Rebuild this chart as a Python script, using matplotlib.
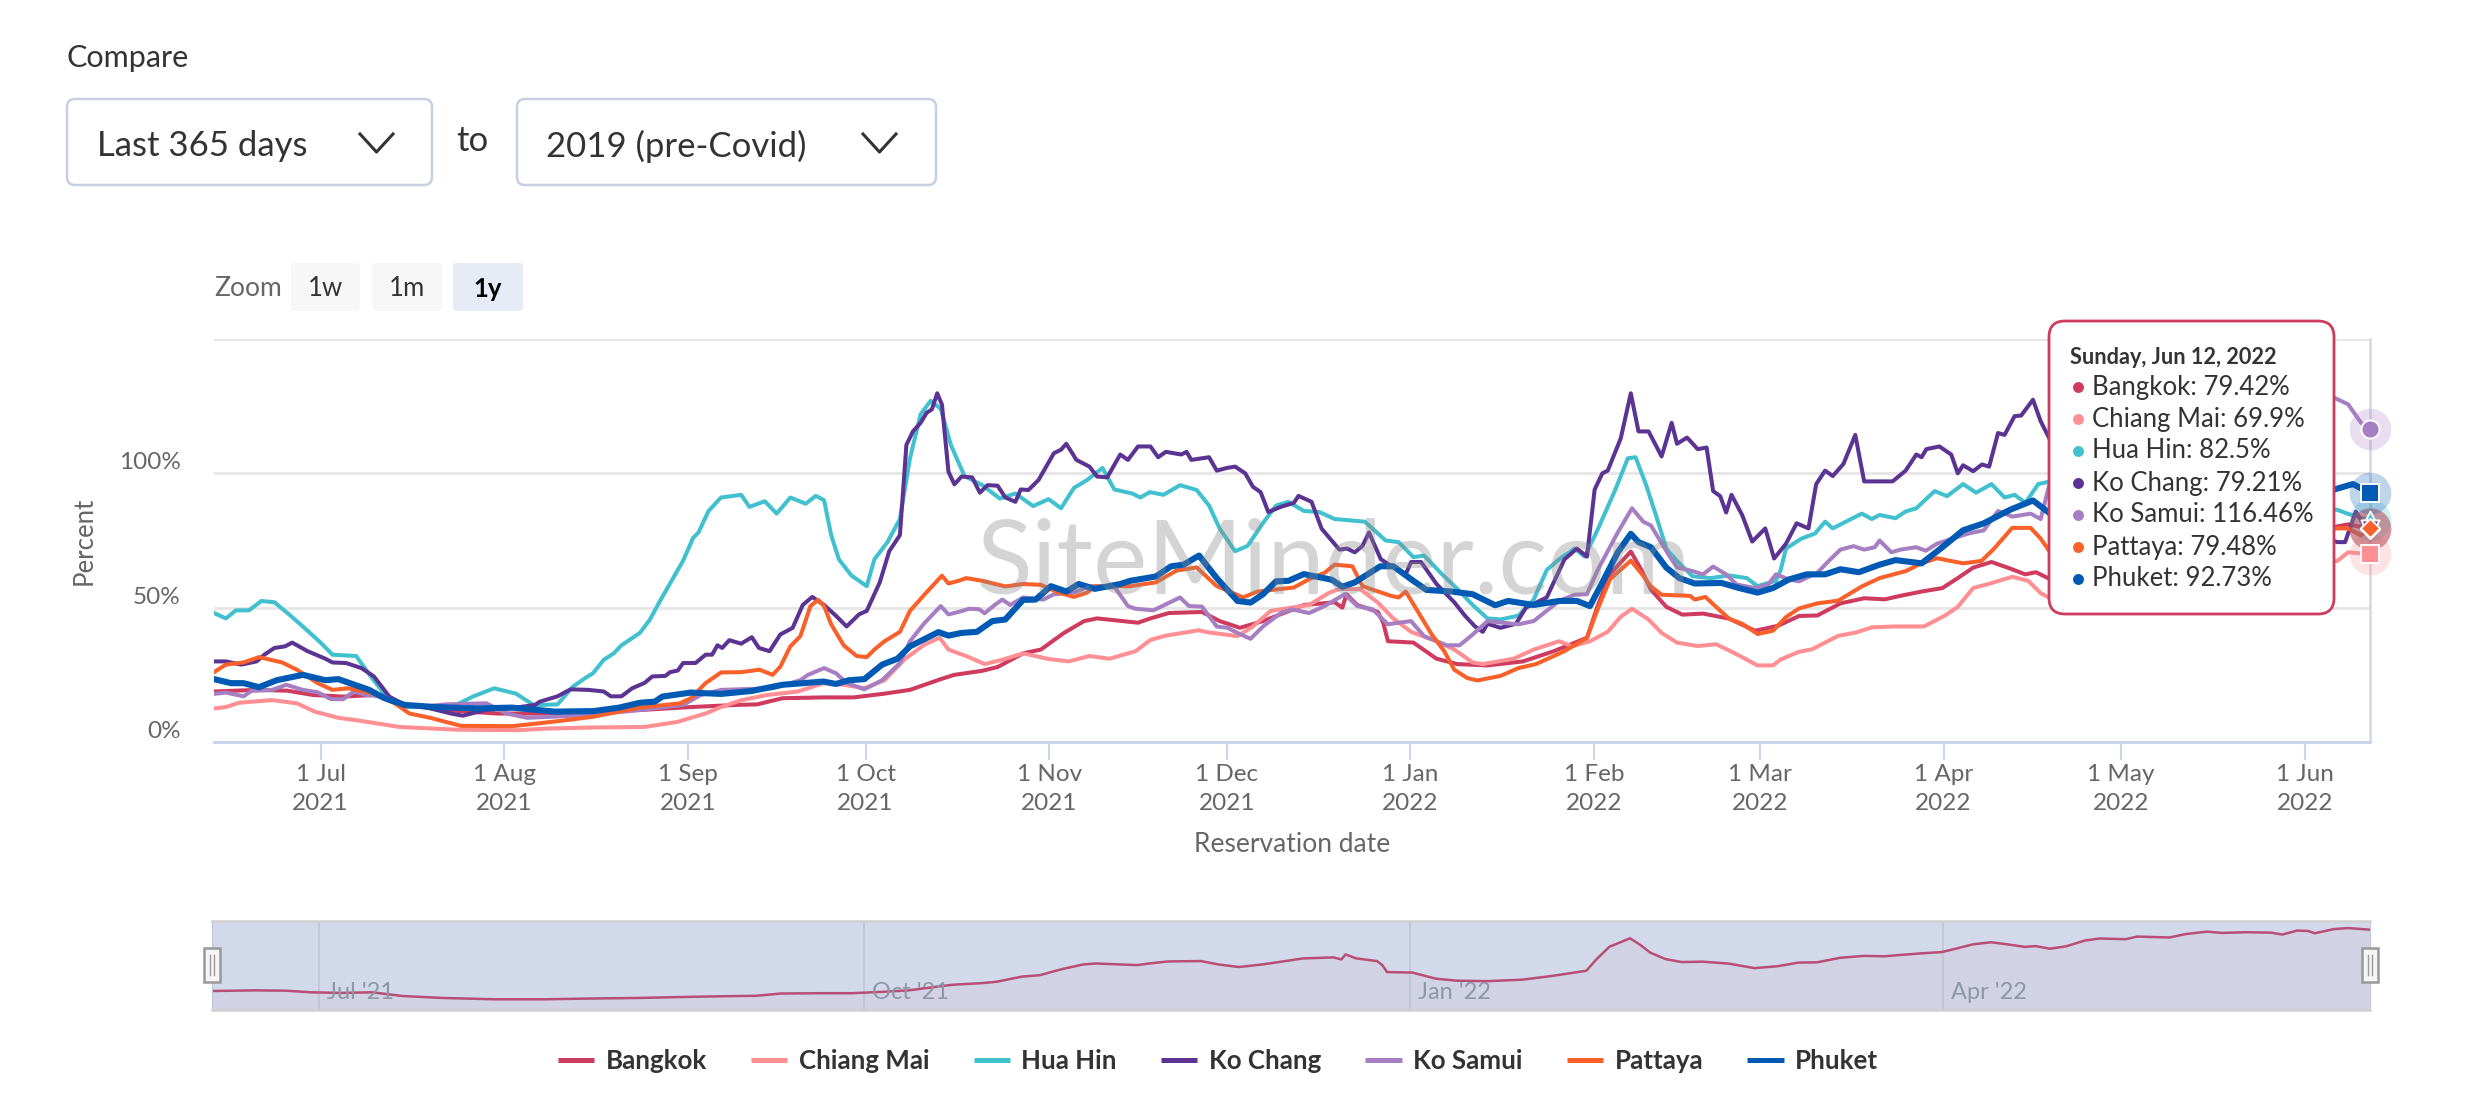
#!/usr/bin/env python3
"""Hotel reservations vs 2019 by Thai destination, with tooltip and navigator."""

import matplotlib
matplotlib.use('Agg')
import matplotlib.dates as mdates
import matplotlib.pyplot as plt
import pandas as pd
from matplotlib.lines import Line2D
from matplotlib.patches import FancyBboxPatch, Rectangle

plt.rcParams['font.family'] = ['Lato', 'DejaVu Sans']

W, H = 2465, 1111

START = pd.Timestamp('2021-06-13')
END = pd.Timestamp('2022-06-12')

# (days since START, percent). The stretch behind the
# tooltip cannot be read for most series, so they jump across it.
BANGKOK = [
    (0, 18.8), (7.2, 19.4), (12.4, 19.1), (16.7, 17.5), (21.8, 16.9), (27, 17.5), (32.2, 13.8),
    (39, 11.9), (47.7, 10.6), (56.3, 10.6), (63.2, 11.3), (71.9, 11.9), (80.5, 13), (88.2, 13.8),
    (91.7, 14), (96, 16.3), (102.9, 16.6), (108, 16.6), (113.2, 18), (117.5, 19.4), (122.7, 23.4),
    (125, 25), (129.7, 26.5), (132.3, 27.9), (136.6, 33), (139.6, 34.4), (143.5, 40.6),
    (146.9, 45), (149.1, 46), (156, 44.4), (158.1, 46), (161.2, 48), (166.8, 48.4), (169.8, 45),
    (173.2, 42.5), (177.1, 45), (180.6, 48), (184, 51), (189.2, 52), (190.5, 50), (191.2, 55),
    (193, 51), (196.5, 48.4), (197.4, 44.4), (198.2, 37.5), (202.5, 37), (206.4, 31), (209.9, 29),
    (215, 28.5), (221, 30), (226.2, 33.8), (231.8, 38.8), (233.6, 50.6), (235.7, 62.5),
    (239.2, 70.9), (240.9, 64.4), (242.6, 56.7), (245.2, 50.3), (247.9, 47.4), (251.4, 47.8),
    (255.8, 45.9), (260.2, 41.4), (264.1, 43.3), (267.6, 46.9), (270.7, 47.1), (274.6, 51.6),
    (278.6, 53.5), (282.1, 53.1), (284.7, 54.4), (288.3, 56), (291.8, 57.3), (294.4, 61),
    (297, 64.9), (300.1, 67), (303.2, 64.6), (305.8, 62.4), (307.6, 63.2), (310, 60.6),
    # from here on read from the navigator, which shows this series
    (312.7, 62.9), (315.9, 68.7), (318.4, 70.7), (322.8, 70), (324.7, 72.6), (330.2, 71.7),
    (332.8, 75), (336.5, 77.5), (339, 76.2), (342.9, 76.9), (347.3, 76.5), (349.2, 74.6),
    (351.7, 78.5), (353.5, 78.2), (354.7, 75.9), (357.9, 80), (360.3, 81), (364, 79.42),
]
CHIANG_MAI = [
    (0, 12.5), (2, 13), (4.2, 14.6), (9.8, 15.6), (14, 14.4), (17, 11.3), (21, 9), (24.4, 8),
    (31.3, 5.6), (40.8, 4.6), (51.2, 4.4), (56.3, 5), (64.1, 5.4), (72.7, 5.6), (78.3, 7.5),
    (80.5, 9), (83, 10.6), (85.6, 13), (89.1, 15.6), (93.4, 17.5), (98.6, 18.8), (102.9, 21.9),
    (106.3, 21.3), (109.8, 20), (113.2, 23), (116.7, 31), (120, 36.3), (122.5, 38.8), (124, 34.4),
    (127.1, 31.9), (130.1, 29), (133.1, 30.6), (136.6, 33), (140.9, 30.9), (144.3, 30),
    (147.8, 32), (151.2, 31), (155.6, 33.8), (158.1, 38), (160.7, 39.6), (166.3, 41.6),
    (167.6, 40.9), (172.8, 39.4), (175.4, 43), (178.4, 48.8), (184.9, 51), (188.3, 55.6),
    (190, 57), (193.5, 56.9), (196.5, 51.9), (199.1, 46), (202.1, 41), (206.4, 37.5),
    (209.4, 34.4), (212.5, 29.6), (214.2, 29), (219.4, 31), (222.8, 34.4), (227.1, 37.5),
    (229.3, 35.6), (232.3, 37.5), (235.3, 41), (237.5, 46.6), (239.4, 49.6), (242.2, 45.6),
    (244.4, 40.6), (247, 37), (250.5, 35.7), (253.6, 36.4), (256.6, 33.2), (260.6, 28.5),
    (263.2, 28.5), (264.5, 30.7), (267.6, 33.6), (269.8, 34.5), (274.2, 39.5), (277.3, 40.8),
    (279.9, 42.7), (283.9, 43), (288.7, 43), (292.2, 47), (294.4, 50.3), (297, 57.3),
    (299.7, 58.9), (303.6, 61.5), (306.3, 60), (308.4, 55.4), (310, 53.5),
    (358.5, 67.4), (360.3, 70.6), (364, 69.9),
]
HUA_HIN = [
    (0, 48), (2, 46), (3.7, 49), (5.9, 49), (8, 52.5), (10.2, 52), (12.4, 48), (15, 43), (18, 37),
    (20, 32.5), (24, 32), (26.6, 24), (29.6, 15.6), (32, 13), (40.8, 13.7), (43.8, 17), (47.3, 20),
    (51, 18), (54, 13.7), (58, 14), (60.6, 20.6), (62.8, 24), (64, 25.6), (65.8, 30.6), (67.5, 33),
    (68.8, 36), (71.9, 40.6), (73.6, 45.6), (75.3, 52.5), (77.5, 61), (79.2, 67.5), (80.9, 76),
    (81.8, 78), (83.5, 86), (85.6, 91), (89, 92), (90.4, 87.5), (93, 89.6), (95, 85), (97.3, 91),
    (99.9, 88.7), (101.6, 91.6), (103, 90), (104.2, 77), (105.5, 68), (107.6, 62), (110.2, 58),
    (111.5, 68), (113.7, 74.4), (115.8, 83), (117.5, 105.6), (119.3, 122), (121, 127),
    (122.7, 124), (124.4, 110.6), (125.7, 104), (126.7, 99), (129.7, 95.6), (132.7, 90.6),
    (135.3, 92.5), (138.3, 87.8), (140.9, 90.4), (143, 87), (145.2, 94.6), (147.4, 97.5),
    (150, 102), (152, 94), (155, 92.5), (156.4, 91), (158, 93), (160.3, 92), (163.1, 95.6),
    (165.9, 93.8), (168, 88), (169.8, 79.4), (172.4, 71), (174.5, 73), (177.1, 81.5), (179.3, 88),
    (181.4, 89.4), (184, 86), (186.6, 85.6), (189.2, 83), (191.8, 82.5), (194.3, 82), (197.8, 75),
    (200, 74.4), (202.5, 68.8), (204.3, 69.4), (207.3, 62.5), (209.9, 57), (212.5, 51), (215, 46),
    (217.2, 45.6), (220.2, 47), (222.8, 53), (225, 64), (227.1, 68), (229.7, 72), (231.4, 69),
    (233.6, 79), (236.6, 94), (238.7, 105.6), (240, 106), (241.8, 95.6), (243.5, 84), (245.2, 72),
    (247, 67.4), (249.6, 61.7), (252.7, 61), (255.8, 62), (258.8, 61), (260.6, 58), (263.7, 60),
    (264.5, 64), (265.4, 72), (268, 75.7), (270.3, 77.6), (272, 82), (273.3, 79.5), (275.5, 82),
    (278.2, 85), (279.9, 83), (281.2, 84.5), (283.9, 83.3), (285.6, 85.8), (287.4, 87),
    (290.5, 93.4), (292.6, 91.5), (295.3, 96), (297.5, 92.8), (300.1, 96), (302.3, 91), (304, 92),
    (305.8, 89), (308, 96), (310, 97), (358.5, 86.4), (360.2, 85), (364, 82.5),
]
KO_CHANG = [
    (0, 30), (2, 30), (4.6, 28.8), (7.2, 30), (8.5, 32.5), (10.2, 35), (12, 35.6), (13.2, 37),
    (15.8, 33.8), (18.8, 31), (20, 29.6), (22.3, 29.4), (24.9, 27.5), (27, 24.4), (29.6, 16.9),
    (32.2, 13.8), (35.6, 13), (40, 10.6), (42, 9.8), (46, 12), (50, 12.5), (54.2, 13.8), (55, 15),
    (58, 17), (60.2, 19.6), (63.2, 19.4), (65.8, 18.8), (67, 17), (68.8, 17), (70.6, 20),
    (72.7, 22), (74, 24.4), (76.2, 24.6), (77, 26), (78.3, 26.6), (79.2, 29.4), (81.3, 29.4),
    (83, 32.5), (84.1, 32.5), (85, 36), (85.8, 35), (87, 37.9), (89, 36.6), (90.8, 39), (92, 35),
    (93.8, 33.8), (95.6, 40), (97.7, 42.5), (99.4, 51), (101, 54), (103, 51), (105, 47),
    (106.8, 43), (108.9, 47.5), (110.2, 48.8), (112.4, 59.4), (114, 71), (115.8, 77),
    (116.9, 110.6), (118, 115.6), (119.3, 118.8), (120.3, 122.5), (121.2, 123.8), (122.1, 129.8),
    (122.9, 125.6), (124, 100.6), (125, 95.9), (126.2, 98.8), (128, 98.5), (129.3, 92.8),
    (130.6, 95.6), (132.3, 95.4), (133.6, 91), (135.3, 89.4), (136.2, 94), (137.5, 93.8),
    (139.2, 97.5), (141.8, 107.5), (143, 108.8), (143.9, 111), (145.6, 105), (147.8, 102.5),
    (149.1, 98.8), (150.8, 98.5), (153, 107), (154.3, 105), (156, 110), (158.1, 110), (159.4, 106),
    (160.7, 108), (163.3, 107), (164.2, 108), (165, 105), (168, 106), (169.3, 101), (171, 102),
    (172.4, 102.5), (174.1, 100), (175.4, 95), (176.7, 93), (178, 85.6), (180.1, 87.5), (182.3, 89),
    (183.1, 91.6), (185.3, 89.4), (187, 79.4), (188.7, 75), (190, 71.6), (191.3, 72), (192.6, 70.6),
    (193.9, 73), (195, 78), (197, 68), (198.7, 65.6), (201.2, 62.5), (202.1, 67), (203.8, 67),
    (206.4, 58.8), (209.4, 52), (211.2, 47), (212.9, 43), (214.2, 41), (215, 44), (217.2, 42.5),
    (219.8, 44), (221.5, 50), (225, 53.8), (228, 68), (230.1, 72), (231.8, 69), (233.1, 94),
    (234.4, 100), (235.3, 101), (237.5, 113), (239.2, 129.8), (240.5, 115.6), (242.2, 115.6),
    (244.4, 106.3), (246.1, 118.8), (247, 111), (248.7, 113.3), (250.5, 109), (252, 109.6),
    (253.1, 93.4), (254.3, 91.5), (255.3, 85.4), (256.2, 92), (258, 84.5), (259.7, 74.6),
    (261.9, 79.5), (263.4, 68.3), (265.4, 73.8), (267.2, 81.4), (269.2, 79.5), (270.5, 96),
    (272, 101), (273.3, 99), (275.1, 103.5), (277.1, 114.3), (278.6, 97), (279.9, 97), (283.4, 97),
    (285.6, 101), (287.4, 107), (288.3, 106), (289.1, 109), (291.3, 110), (293.3, 107), (294.4, 100),
    (295.3, 103), (297, 100.8), (298.5, 103.3), (299.7, 102.5), (301.2, 115), (302.3, 114.3),
    (304, 121.3), (305.1, 121.5), (307.1, 127.4), (308.4, 119.4), (310, 112.4),
    (358.5, 74.4), (359.8, 74.4), (361.6, 85.8), (363.3, 79.5), (364, 79.21),
]
KO_SAMUI = [
    (0, 17.9), (2, 18.4), (5, 17), (6.3, 19), (9.8, 19.4), (12.2, 21.3), (15, 19.4), (17.5, 18.5),
    (19.7, 16), (21.8, 15.9), (23.6, 18.8), (25.7, 17.5), (28.8, 16.9), (31.3, 14.4), (34.8, 13),
    (39, 14), (46, 14.4), (49.4, 10.6), (52.9, 9), (57, 9.4), (63.2, 10), (71.9, 11.9), (79.2, 13.8),
    (82.2, 17.5), (85.6, 19.4), (94.3, 20), (99, 23), (100.3, 25), (103, 27.5), (105, 25.6),
    (106.8, 22), (109.8, 19.6), (112.8, 23), (115.8, 29.4), (117.5, 37.5), (120, 44.4),
    (122.7, 50.6), (124, 47.5), (125.7, 48.4), (127.5, 49.6), (129.2, 49.4), (130.1, 47.9),
    (131.8, 51), (133.1, 53), (134.4, 51), (136.6, 53.8), (140, 53), (141.8, 55), (145.2, 55.6),
    (147.8, 58), (152.1, 57.5), (154.3, 50.6), (155.6, 49.6), (158.6, 49), (163.1, 53.8),
    (164.6, 50.6), (166.8, 50.4), (169.3, 43), (171.1, 42.5), (172.8, 40.6), (175, 38.4),
    (177.1, 43), (180.1, 48), (181.9, 49.4), (184.9, 48), (187.5, 50.6), (190.9, 55), (193, 50.6),
    (195.6, 49.4), (198.2, 43.8), (200, 44.4), (202.1, 45), (204.3, 39.4), (208.1, 36), (210.3, 36),
    (212.5, 40), (215, 45), (220.2, 43.8), (222.8, 45), (227.1, 52.5), (229.7, 54.8), (231.8, 55),
    (233.6, 64), (237, 78), (239.4, 87), (241.3, 82), (242.6, 80.6), (244.4, 74), (245.5, 70),
    (247, 65), (249.6, 63.6), (251.4, 62.4), (253.1, 65.3), (255.3, 62.4), (257.1, 58.6),
    (260.2, 57.3), (262.4, 58.6), (263.7, 62.4), (265.9, 60.5), (267.6, 59.8), (270.7, 63),
    (272.9, 68), (274.6, 71.6), (276.8, 72.9), (278.6, 71.6), (280.4, 72.5), (281.2, 75),
    (283.2, 70.6), (284.7, 71.6), (287.4, 72.5), (289, 71.2), (290.9, 73.8), (293.5, 75.7),
    (296.2, 77.6), (298.8, 78.8), (301.2, 86), (303.6, 83.9), (306.7, 85), (308.4, 83), (310, 97),
    (358.1, 128), (360.3, 125.7), (362.5, 118.8), (364, 116.46),
]
PATTAYA = [
    (0, 26), (2, 28.8), (5, 29.6), (7.6, 31.6), (11.5, 29.6), (14, 26.9), (17.5, 21.9), (20, 19.4),
    (22.7, 20), (27, 18), (30.5, 14.4), (33, 10.6), (36.5, 9), (41.7, 6), (50.3, 5.9), (54.6, 6.9),
    (59, 8), (64, 9.4), (68.4, 11.3), (71.9, 12.8), (78.7, 14.4), (80.5, 16.3), (83, 21.9),
    (85.6, 25.9), (89, 26), (92.1, 26.9), (94.3, 25), (95.6, 28), (97.3, 35.6), (99, 39.4),
    (100.7, 50.6), (102, 52.9), (103, 50.6), (104.2, 43.8), (106.3, 36), (108.5, 32), (110.2, 31.6),
    (111.5, 34.4), (113.2, 37.5), (115.8, 41), (117.5, 48.8), (120, 55), (122.9, 61.9), (124, 59),
    (125.7, 60), (127, 61), (129.7, 60), (133.6, 57.9), (136.6, 58.8), (139.6, 58.5), (142.6, 55.6),
    (145.2, 54), (147.4, 55.6), (148.7, 58), (154.7, 58), (159, 59.4), (162.5, 63.8), (165.9, 65),
    (169.3, 58), (171.9, 55.6), (173.7, 53.8), (176.2, 56), (182.3, 57.5), (184.9, 60.6),
    (187.5, 63), (189.2, 66), (192.2, 65.4), (193.9, 58), (198.7, 54.4), (200, 53.8), (201.2, 56),
    (203.4, 48), (205.6, 40), (207.7, 33.8), (209.4, 26.9), (211.6, 23.8), (213.3, 22.9),
    (217.2, 24.6), (220.2, 27.5), (223.2, 29), (228, 33.8), (231.8, 38.8), (233.6, 49.4),
    (235.7, 60.6), (239.2, 67.5), (240.9, 63), (242.6, 57.9), (244.4, 54.8), (249.2, 54.4),
    (250, 53), (251.8, 54), (253.6, 50.3), (255.8, 45.9), (258, 44), (260.6, 40.2), (263.2, 41.4),
    (265.4, 46.5), (267.6, 49.7), (270.7, 51.6), (274.2, 52.6), (278.2, 57.9), (281.2, 61),
    (285.6, 63.6), (288.3, 66.5), (290.9, 68.4), (295.3, 66.5), (298.4, 67.4), (300.5, 71.9),
    (303.6, 79.7), (306.7, 79.7), (308.4, 75.7), (310, 70.6),
    (358, 79.5), (360.3, 79.5), (362.5, 76.9), (364, 79.48),
]
PHUKET = [
    (0, 23.4), (2.9, 21.9), (5, 21.9), (7.6, 20.4), (10.6, 23), (15, 25), (18.8, 23), (21, 23.4),
    (26.2, 19.4), (28.8, 16.3), (32.2, 13.8), (37.4, 13), (44.3, 12.5), (50.3, 12.8), (57.6, 11.3),
    (64.1, 11.5), (68.4, 12.8), (71.9, 14.6), (74.4, 15), (75.7, 16.9), (80.5, 18.4), (85.6, 17.9),
    (90.8, 19), (96, 21.3), (102.9, 22.5), (105, 21.6), (107.2, 23), (109.8, 23.4), (112.8, 28.8),
    (115.4, 31), (117.5, 35.6), (122.3, 40.9), (124, 39.6), (126.2, 40.6), (128.8, 41),
    (131.4, 45), (133.6, 45.6), (136.6, 52.9), (138.7, 53), (141.3, 58), (143.9, 56), (146, 58.8),
    (148.7, 57), (153, 58.8), (154.7, 60), (159, 61.6), (161.6, 65.4), (163.7, 66), (166.3, 69.4),
    (169.3, 61), (172.8, 52.5), (175, 51.9), (177.1, 55), (179.3, 59.8), (181.4, 60), (184, 62.5),
    (188.7, 60.4), (190.5, 57.8), (192.6, 59.4), (196.9, 65.4), (199.1, 65.4), (202.1, 60.6),
    (204.7, 56.6), (209, 56), (212.5, 55), (216.3, 50.9), (218.5, 52.5), (222.8, 51), (227.1, 52.5),
    (230.1, 52.5), (232.3, 50.6), (234.4, 59.4), (237, 70.6), (239.2, 77.5), (240.5, 74.4),
    (242.6, 72.5), (245.2, 64.9), (247.4, 61), (250, 59), (254.5, 59.2), (257.5, 57.3),
    (260.6, 55.6), (263.2, 57.3), (265.9, 60.5), (268.9, 62.4), (272, 62.4), (274.6, 64.3),
    (277.7, 63.2), (281.2, 66), (283.9, 67.7), (288.3, 66.5), (291.8, 72.5), (295.3, 78.8),
    (298.8, 81.4), (303.2, 86.4), (307.1, 89.9), (310, 85),
    (358, 94), (361.1, 96), (364, 92.73),
]

SERIES_NAMES = ['Bangkok', 'Chiang Mai', 'Hua Hin', 'Ko Chang', 'Ko Samui', 'Pattaya', 'Phuket']
SERIES_DATA = [BANGKOK, CHIANG_MAI, HUA_HIN, KO_CHANG, KO_SAMUI, PATTAYA, PHUKET]
TOOLTIP_VALUES = ['79.42%', '69.9%', '82.5%', '79.21%', '116.46%', '79.48%', '92.73%']
COLORS = ['#cf3a5f', '#ff8f92', '#41c0cf', '#5b3392', '#a67fc3', '#f9602a', '#0059b3']
MARKERS = ['D', 's', '^', 'v', 'o', 'D', 's']
NAV_TICKS = ['2021-07-01', '2021-10-01', '2022-01-01', '2022-04-01']
NAV_LABELS = ["Jul '21", "Oct '21", "Jan '22", "Apr '22"]
Y_TICKS = [0, 50, 100, 150]
Y_LABELS = ['0%', '50%', '100%', '']


def to_dates(points):
    days = [p[0] for p in points]
    return START + pd.to_timedelta(days, unit='D'), [p[1] for p in points]


def box_axes(fig, left, right, top, bottom, **kwargs):
    """Axes placed by pixel edges, y counted from the top of the picture."""
    return fig.add_axes([left / W, 1 - bottom / H, (right - left) / W, (bottom - top) / H], **kwargs)


def round_box(ax, x0, y0, x1, y1, radius, fc, ec, lw, zorder=2):
    ax.add_patch(FancyBboxPatch((x0, y0), x1 - x0, y1 - y0, boxstyle=f'round,pad=0,rounding_size={radius}',
                                fc=fc, ec=ec, lw=lw, zorder=zorder))


fig = plt.figure(figsize=(W / 100, H / 100), dpi=100, facecolor='white')

# --- main chart ---
ax = box_axes(fig, 214, 2370, 339, 742)
ax.set_zorder(1)
ax.set_xlim(START, END)
ax.set_ylim(0, 150)
handles = []
for name, points, color in zip(SERIES_NAMES, SERIES_DATA, COLORS):
    x, y = to_dates(points)
    lw = 4.4 if name == 'Phuket' else 2.9
    ax.plot(x, y, color=color, lw=lw, solid_joinstyle='round', zorder=3, label=name)
    handles.append(Line2D([0], [0], color=color, lw=3.6, solid_capstyle='butt', label=name))
    ax.scatter(x[-1], y[-1], s=900, color=color, alpha=0.25, lw=0, clip_on=False, zorder=4)
for name, points, color, marker in zip(SERIES_NAMES, SERIES_DATA, COLORS, MARKERS):
    x, y = to_dates(points)
    ax.scatter(x[-1], y[-1], s=95 if marker == 'D' else 170, marker=marker, color=color, edgecolor='white',
               lw=1.4, clip_on=False, zorder=5)

ax.grid(axis='y', color='#e6e6e6', lw=2, zorder=0)
ax.set_axisbelow(True)
for side in ['top', 'left']:
    ax.spines[side].set_visible(False)
ax.spines['bottom'].set_color('#ccd6eb')
ax.spines['bottom'].set_linewidth(2.2)
ax.spines['right'].set_color('#d4d8e0')
ax.spines['right'].set_linewidth(1.8)
ax.xaxis.set_major_locator(mdates.MonthLocator())
ax.xaxis.set_major_formatter(mdates.DateFormatter('%-d %b\n%Y'))
ax.tick_params(axis='x', length=13, width=1.5, color='#ccd6eb', labelcolor='#666666', labelsize=17.5, pad=3)
ax.tick_params(axis='y', length=0, labelcolor='#666666', labelsize=17.5, pad=24)
ax.set_yticks(Y_TICKS)
ax.set_yticklabels(Y_LABELS)
for label in ax.get_yticklabels():
    label.set_verticalalignment('bottom')
for label in ax.get_xticklabels():
    label.set_linespacing(1.45)
ax.set_xlabel('Reservation date', fontsize=19, color='#666666', labelpad=13)
ax.set_ylabel('Percent', fontsize=18.5, color='#666666', labelpad=16)

# --- navigator ---
nav = box_axes(fig, 212, 2370, 921, 1010)
nav.set_facecolor('#d2d9ea')
nav.set_xlim(START, END)
nav.set_ylim(0, 88)
nav_x, nav_y = to_dates(BANGKOK)
nav.fill_between(nav_x, nav_y, color='#cf3a5f', alpha=0.04, lw=0)
nav.plot(nav_x, nav_y, color='#b84d75', lw=1.8)
nav.set_yticks([])
nav.set_xticks(pd.to_datetime(NAV_TICKS))
nav.tick_params(axis='x', length=0, labelbottom=False)
nav.grid(axis='x', color='#c0c8d8', lw=1.4)
for tick, label in zip(pd.to_datetime(NAV_TICKS), NAV_LABELS):
    nav.annotate(label, (tick, 0), xytext=(6, 5), textcoords='offset points', fontsize=17,
                 color='#8d97a8', va='bottom', ha='left')
for side in ['left', 'right']:
    nav.spines[side].set_color('#c0c8d8')
for side in ['top', 'bottom']:
    nav.spines[side].set_color('#d0d0d0')
    nav.spines[side].set_linewidth(1.8)

# --- legend ---
fig.legend(handles=handles, loc='center', bbox_to_anchor=(1218 / W, 1 - 1061 / H), ncol=7, frameon=False,
           handlelength=1.4, handletextpad=0.44, columnspacing=1.72,
           prop={'size': 18.6, 'weight': 'bold'}, labelcolor='#333333')

# --- page furniture, in picture pixels ---
ui = fig.add_axes([0, 0, 1, 1], zorder=5)
ui.set_xlim(0, W)
ui.set_ylim(H, 0)
ui.axis('off')
ui.patch.set_alpha(0)

ui.text(977, 594, 'SiteMinder.com', fontsize=74, color='#8a8a8a', alpha=0.36, va='baseline', zorder=1)

ui.text(66, 57.5, 'Compare', fontsize=22, color='#333333', va='center')
border = '#c6d0e0'
round_box(ui, 67, 99, 432, 185, 8, 'white', border, 1.8)
round_box(ui, 517, 99, 936, 185, 8, 'white', border, 1.8)
ui.text(97, 146, 'Last 365 days', fontsize=25, color='#333333', va='center')
ui.text(456, 141, 'to', fontsize=25, color='#333333', va='center')
ui.text(546, 146, '2019 (pre-Covid)', fontsize=25, color='#333333', va='center')
for x0 in [360, 863]:
    ui.plot([x0, x0 + 16.5, x0 + 33], [134, 152, 134], color='#333333', lw=2.2)

ui.text(214, 289, 'Zoom', fontsize=19, color='#666666', va='center')
for x0, x1, text, fill, tcolor in [(291, 360, '1w', '#f7f7f7', '#333333'), (372, 442, '1m', '#f7f7f7', '#333333'),
                                   (453, 523, '1y', '#e6ebf5', '#000000')]:
    round_box(ui, x0, 263, x1, 311, 4, fill, 'none', 0)
    ui.text((x0 + x1) / 2, 289, text, fontsize=18.5, color=tcolor, ha='center', va='center',
            weight='bold' if text == '1y' else 'normal')

# navigator handles
for xc in [212, 2370]:
    ui.add_patch(Rectangle((xc - 8, 948), 16, 34, fc='#f5f5f5', ec='#999999', lw=1.8, zorder=3))
    ui.plot([xc - 2, xc - 2], [955, 975], color='#999999', lw=1, zorder=4)
    ui.plot([xc + 2, xc + 2], [955, 975], color='#999999', lw=1, zorder=4)

# tooltip
round_box(ui, 2049, 321, 2334, 614, 16, 'white', '#cf3a5f', 2, zorder=6)
ui.text(2070, 357, 'Sunday, Jun 12, 2022', fontsize=15.6, weight='bold', color='#333333', va='center', zorder=7)
row_y = [387, 419, 451, 483, 515, 547, 579]
for y, name, value, color in zip(row_y, SERIES_NAMES, TOOLTIP_VALUES, COLORS):
    ui.scatter([2078], [y], s=62, color=color, lw=0, zorder=7)
    ui.text(2092, y, f'{name}: {value}', fontsize=18.5, color='#333333', va='center', zorder=7)

fig.savefig('out.png', dpi=100)
plt.close(fig)
